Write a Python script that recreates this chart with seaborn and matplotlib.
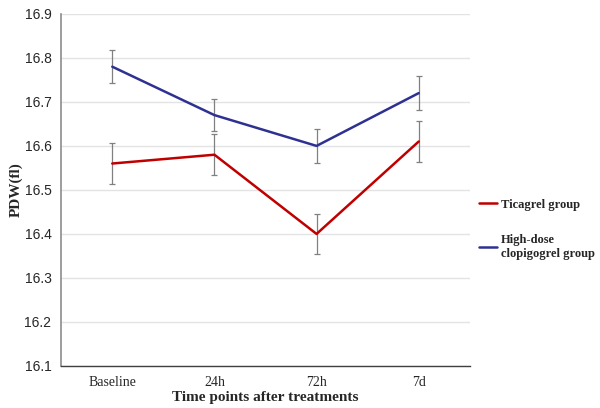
import matplotlib
matplotlib.use("Agg")
import matplotlib.pyplot as plt
import seaborn as sns
import pandas as pd
import numpy as np

categories = ["Baseline", "24h", "72h", "7d"]
ticagrel = [16.56, 16.58, 16.40, 16.61]
ticagrel_err = [0.047, 0.047, 0.046, 0.047]
clopi = [16.78, 16.67, 16.60, 16.72]
clopi_err = [0.037, 0.037, 0.038, 0.038]
series_names = ["Ticagrel group", "High-dose\nclopigogrel group"]
yticks = [16.1, 16.2, 16.3, 16.4, 16.5, 16.6, 16.7, 16.8, 16.9]

sns.set_style("white")
serif = ["Liberation Serif", "DejaVu Serif"]
sans = ["Liberation Sans", "DejaVu Sans"]

df = pd.DataFrame({
    "time": categories * 2,
    "value": ticagrel + clopi,
    "group": [series_names[0]] * 4 + [series_names[1]] * 4,
})

fig = plt.figure(figsize=(6, 4.08), dpi=100)
ax = fig.add_axes([0.102, 0.103, 0.681, 0.863])

colors = {series_names[0]: "#C00000", series_names[1]: "#2E3192"}
for y in yticks:
    ax.axhline(y, color="#E3E3E3", lw=1, zorder=0)

x = np.arange(len(categories))
ax.errorbar(x, ticagrel, yerr=ticagrel_err, fmt="none", ecolor="#808080",
            elinewidth=0.9, capsize=2.5, capthick=0.9, zorder=2)
ax.errorbar(x, clopi, yerr=clopi_err, fmt="none", ecolor="#808080",
            elinewidth=0.9, capsize=2.5, capthick=0.9, zorder=2)
sns.lineplot(data=df, x="time", y="value", hue="group", palette=colors,
             lw=1.8, ax=ax, zorder=3, sort=False)

ax.set_xlim(-0.5, 3.5)
ax.set_ylim(16.1, 16.9)
ax.set_yticks(yticks)
ax.set_yticklabels([f"{v:.1f}" for v in yticks], fontfamily=sans, fontsize=10)
ax.set_xticks(x)
ax.set_xticklabels(categories, fontfamily=serif, fontsize=10)
ax.tick_params(length=0, pad=7)

for s in ["top", "right"]:
    ax.spines[s].set_visible(False)
ax.spines["left"].set_color("#8C8C8C")
ax.spines["left"].set_linewidth(1.2)
ax.spines["bottom"].set_color("#404040")
ax.spines["bottom"].set_linewidth(1.0)

ax.set_xlabel("Time points after treatments", fontfamily=serif, fontweight="bold", fontsize=11, labelpad=2)
ax.set_ylabel("PDW(fl)", fontfamily=serif, fontweight="bold", fontsize=11, labelpad=1)

leg = ax.legend(loc="upper left", bbox_to_anchor=(1.0, 0.50), frameon=False,
                prop={"family": serif, "weight": "bold", "size": 9},
                handlelength=1.5, handletextpad=0.3, labelspacing=1.9,
                borderaxespad=0.3)

fig.savefig("out.png", dpi=100)
